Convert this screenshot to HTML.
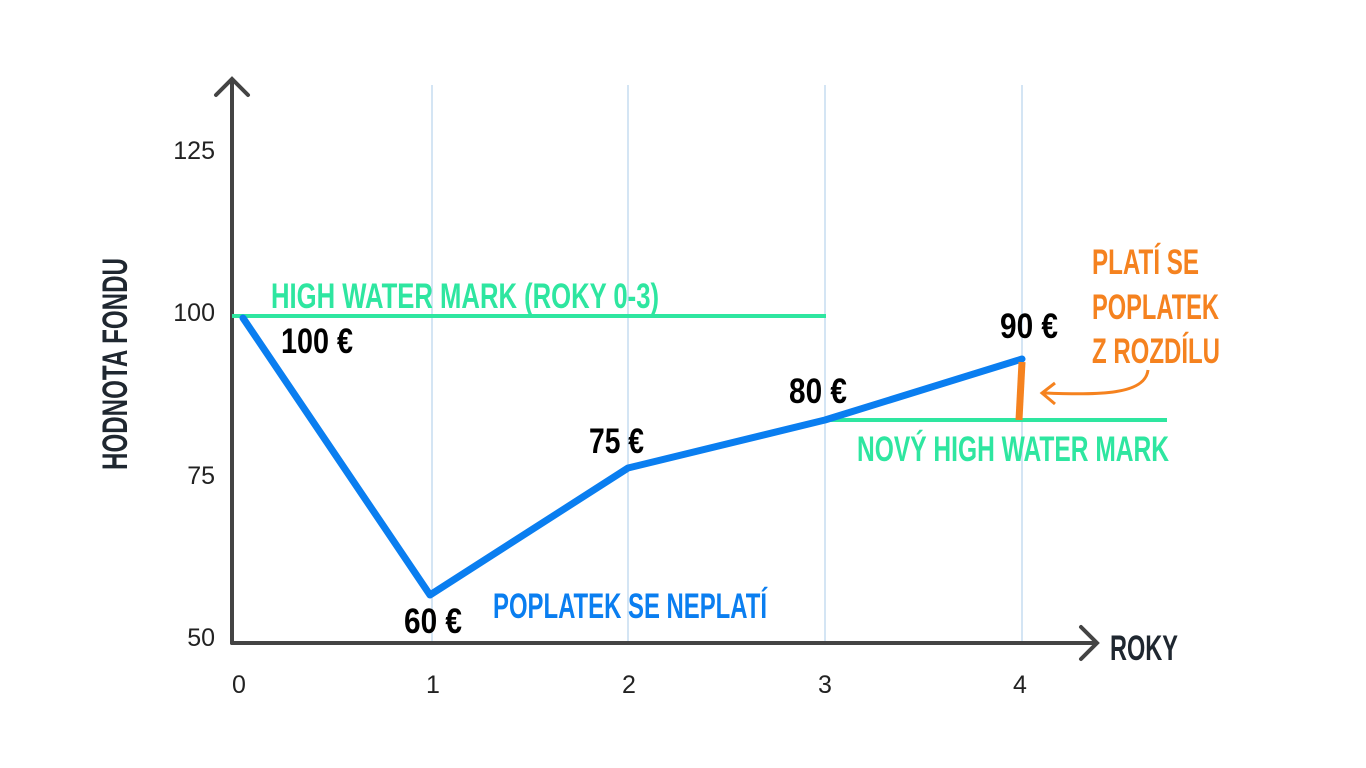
<!DOCTYPE html>
<html><head><meta charset="utf-8"><style>html,body{margin:0;padding:0;background:#fff}svg{display:block}
.c{font-family:"Liberation Sans",sans-serif;font-weight:bold}
.n{font-family:"Liberation Sans",sans-serif;font-size:25px;fill:#222}</style></head><body>
<svg width="1366" height="768" viewBox="0 0 1366 768">
<g stroke="#a8cbe8" stroke-width="1">
<line x1="432" y1="85" x2="432" y2="643"/><line x1="628" y1="85" x2="628" y2="643"/>
<line x1="825" y1="85" x2="825" y2="643"/><line x1="1022" y1="85" x2="1022" y2="643"/>
</g>
<g stroke="#444" stroke-width="4" fill="none" stroke-linecap="round">
<line x1="232" y1="80" x2="232" y2="643"/><polyline points="216,95 232,79 248,95"/>
<line x1="232" y1="643" x2="1096" y2="643"/><polyline points="1081,627 1097,643 1081,659"/>
</g>
<g class="n" text-anchor="end"><text x="215" y="159">125</text><text x="215" y="321">100</text><text x="215" y="484">75</text><text x="215" y="646">50</text></g>
<g class="n" text-anchor="middle"><text x="239" y="693">0</text><text x="433" y="693">1</text><text x="629" y="693">2</text><text x="825" y="693">3</text><text x="1020" y="693">4</text></g>
<line x1="232" y1="316" x2="826" y2="316" stroke="#2ee6a0" stroke-width="4"/>
<line x1="825" y1="420" x2="1167" y2="420" stroke="#2ee6a0" stroke-width="4"/>
<polyline points="243,318 430,595 628,468 825,420 1022,359" fill="none" stroke="#0a7ef0" stroke-width="7" stroke-linejoin="round" stroke-linecap="round"/>
<line x1="1022" y1="362" x2="1019" y2="420" stroke="#f5821f" stroke-width="7"/>
<path d="M1148,370 C1145,395 1100,395 1043,393" fill="none" stroke="#f5821f" stroke-width="3"/>
<polyline points="1055,383 1042,393 1055,404" fill="none" stroke="#f5821f" stroke-width="3"/>
<g class="c" font-size="35">
<text x="271" y="308" fill="#2ee6a0" textLength="388" lengthAdjust="spacingAndGlyphs">HIGH WATER MARK (ROKY 0-3)</text>
<text x="857" y="461" fill="#2ee6a0" textLength="312" lengthAdjust="spacingAndGlyphs">NOVÝ HIGH WATER MARK</text>
<text x="493" y="618" fill="#0a7ef0" textLength="274" lengthAdjust="spacingAndGlyphs">POPLATEK SE NEPLATÍ</text>
<text x="281" y="353" fill="#000" textLength="72" lengthAdjust="spacingAndGlyphs">100 €</text>
<text x="404" y="633" fill="#000" textLength="58" lengthAdjust="spacingAndGlyphs">60 €</text>
<text x="589" y="453" fill="#000" textLength="55" lengthAdjust="spacingAndGlyphs">75 €</text>
<text x="789" y="403" fill="#000" textLength="58" lengthAdjust="spacingAndGlyphs">80 €</text>
<text x="1000" y="338" fill="#000" textLength="58" lengthAdjust="spacingAndGlyphs">90 €</text>
<text x="1092" y="274" fill="#f5821f" textLength="107" lengthAdjust="spacingAndGlyphs">PLATÍ SE</text>
<text x="1092" y="319" fill="#f5821f" textLength="127" lengthAdjust="spacingAndGlyphs">POPLATEK</text>
<text x="1092" y="363" fill="#f5821f" textLength="128" lengthAdjust="spacingAndGlyphs">Z ROZDÍLU</text>
<text x="1110" y="660" fill="#1f2730" textLength="68" lengthAdjust="spacingAndGlyphs">ROKY</text>
<text transform="translate(127,470) rotate(-90)" fill="#1f2730" textLength="212" lengthAdjust="spacingAndGlyphs">HODNOTA FONDU</text>
</g>
</svg></body></html>
